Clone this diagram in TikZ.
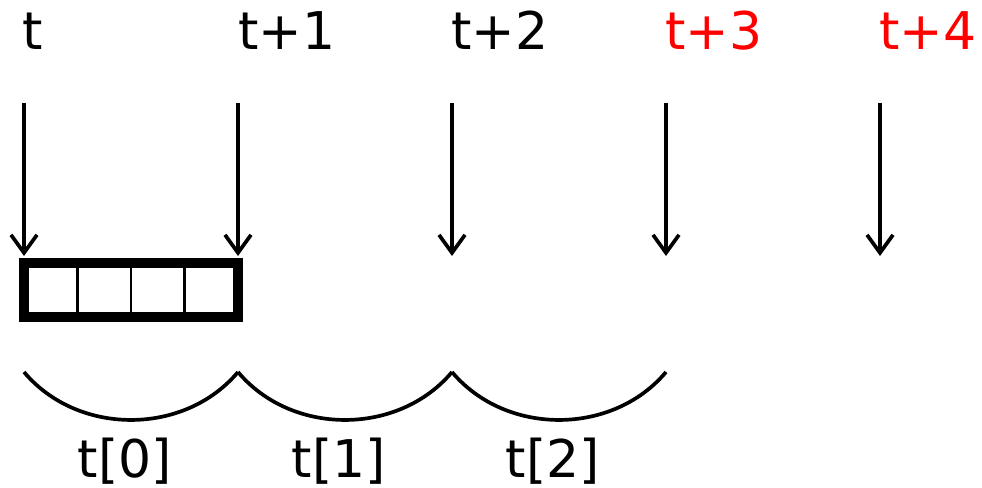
\documentclass[tikz,border=0pt]{standalone}
\usepackage{fontspec}
\setmainfont{DejaVu Sans}
\usetikzlibrary{arrows.meta}
\tikzstyle{tick} = [anchor=base west, inner sep=0pt, font=\fontsize{29.6}{36}\selectfont]
\tikzstyle{future} = [tick, text=red]
\tikzstyle{slot} = [anchor=base, inner sep=0pt, font=\fontsize{29.6}{36}\selectfont]
\tikzstyle{arrow} = [line width=2.1pt, ->, >={Straight Barb[length=3.6mm,width=5.2mm]}]
\tikzstyle{buffer} = [rectangle, draw=black, line width=5.7pt, minimum width=4.28cm, minimum height=1.08cm, inner sep=0pt, outer sep=0pt]
\tikzstyle{cell} = [line width=1.4pt]
\tikzstyle{span} = [line width=2.1pt, bend right=50]

\begin{document}
\begin{tikzpicture}[x=0.02cm, y=0.02cm]
	\useasboundingbox (0,0) rectangle (982,487);
	% time steps
	\node (lblt) [tick] at (22,437) {t};
	\node (lbl1) [tick] at (238,437) {t+1};
	\node (lbl2) [tick] at (451,437) {t+2};
	\node (lbl3) [future] at (665,437) {t+3};
	\node (lbl4) [future] at (879,437) {t+4};
	\coordinate (in0) at (24,384);
	\coordinate (in1) at (238,384);
	\coordinate (in2) at (452,384);
	\coordinate (in3) at (666,384);
	\coordinate (in4) at (880,384);
	\coordinate (hit0) at (24,231);
	\coordinate (hit1) at (238,231);
	\coordinate (hit2) at (452,231);
	\coordinate (hit3) at (666,231);
	\coordinate (hit4) at (880,231);
	\draw [arrow] (in0) -- (hit0);
	\draw [arrow] (in1) -- (hit1);
	\draw [arrow] (in2) -- (hit2);
	\draw [arrow] (in3) -- (hit3);
	\draw [arrow] (in4) -- (hit4);
	% buffer
	\node (buf) [buffer] at (131,197) {};
	\draw [cell] (77.5,224) -- (77.5,170);
	\draw [cell] (131,224) -- (131,170);
	\draw [cell] (184.5,224) -- (184.5,170);
	% intervals
	\coordinate (m0) at (24,115);
	\coordinate (m1) at (238,115);
	\coordinate (m2) at (452,115);
	\coordinate (m3) at (666,115);
	\draw [span] (m0) to (m1);
	\draw [span] (m1) to (m2);
	\draw [span] (m2) to (m3);
	\node (s0) [slot] at (125,10) {t[0]};
	\node (s1) [slot] at (339,10) {t[1]};
	\node (s2) [slot] at (553,10) {t[2]};
\end{tikzpicture}
\end{document}
